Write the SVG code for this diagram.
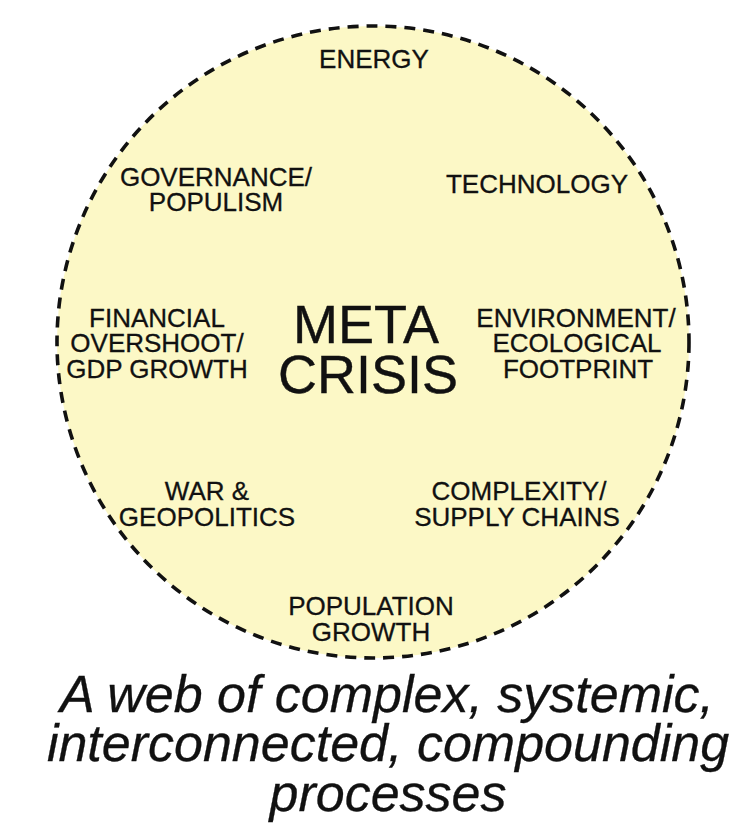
<svg xmlns="http://www.w3.org/2000/svg" width="749" height="831" viewBox="0 0 749 831">
<style>
.lbl{font-family:"Liberation Sans",Arial,sans-serif;font-size:26px;fill:#111;stroke:#111;stroke-width:0.3;text-anchor:middle}
.big{font-family:"Liberation Sans",Arial,sans-serif;font-size:54px;fill:#111;stroke:#111;stroke-width:0.4;text-anchor:middle}
.cap{font-family:"Liberation Sans",Arial,sans-serif;font-size:52px;font-style:italic;fill:#111;stroke:#111;stroke-width:0.3;text-anchor:middle}
</style>
<rect width="749" height="831" fill="#fff"/>
<g id="circle">
<circle cx="373" cy="342" r="316" fill="#fcf8c6" stroke="#111" stroke-width="3.6" stroke-dasharray="11 8"/>
</g>
<g id="connectors"></g>
<g id="center"><text class="big" x="366" y="343">META</text><text class="big" x="368" y="393">CRISIS</text></g>
<g id="energy"><text class="lbl" x="374" y="68">ENERGY</text></g>
<g id="governance"><text class="lbl" x="216" y="186">GOVERNANCE/</text><text class="lbl" x="216" y="211">POPULISM</text></g>
<g id="technology"><text class="lbl" x="537" y="193">TECHNOLOGY</text></g>
<g id="financial"><text class="lbl" x="157" y="327">FINANCIAL</text><text class="lbl" x="157" y="352">OVERSHOOT/</text><text class="lbl" x="157" y="378">GDP GROWTH</text></g>
<g id="environment"><text class="lbl" x="576" y="327">ENVIRONMENT/</text><text class="lbl" x="577" y="352">ECOLOGICAL</text><text class="lbl" x="578" y="378">FOOTPRINT</text></g>
<g id="war"><text class="lbl" x="207" y="500">WAR &amp;</text><text class="lbl" x="207" y="526">GEOPOLITICS</text></g>
<g id="complexity"><text class="lbl" x="519" y="500">COMPLEXITY/</text><text class="lbl" x="517" y="526">SUPPLY CHAINS</text></g>
<g id="population"><text class="lbl" x="371" y="615">POPULATION</text><text class="lbl" x="371" y="641">GROWTH</text></g>
<g id="caption"><text class="cap" x="387" y="712">A web of complex, systemic,</text><text class="cap" x="388" y="761">interconnected, compounding</text><text class="cap" x="388" y="811">processes</text></g>
</svg>
